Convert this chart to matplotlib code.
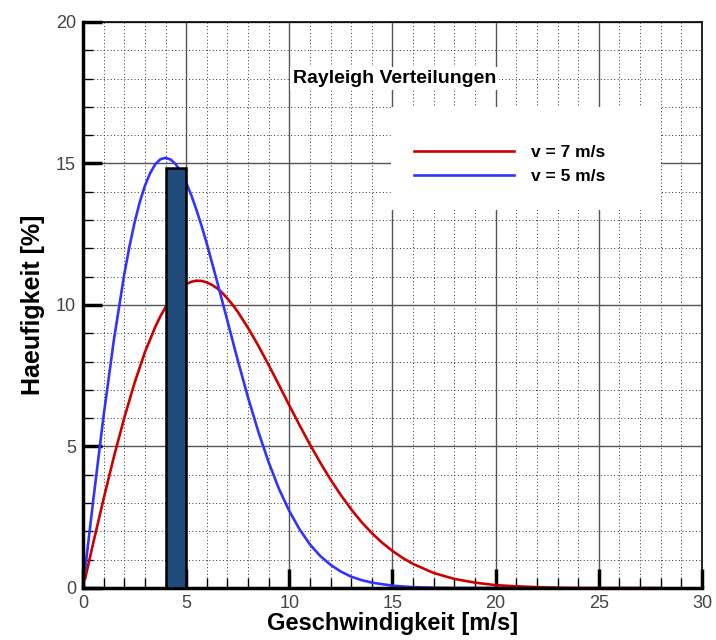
import matplotlib
matplotlib.use('Agg')
import matplotlib.pyplot as plt
from matplotlib.patches import Rectangle
from matplotlib.ticker import MultipleLocator

# values (Haeufigkeit in % over v in m/s)
v_red = [0.1, 0.5, 1, 1.5, 2, 2.5, 3, 3.5, 3.75, 4, 4.25, 4.5, 4.75, 5, 5.25, 5.5, 5.75, 6,
         6.25, 6.5, 6.75, 7, 7.25, 7.5, 8, 8.5, 9, 9.5, 10, 10.5, 11, 11.5, 12, 12.5, 13,
         13.5, 14, 14.5, 15, 15.5, 16, 17, 18, 19, 20, 21, 22, 23, 24, 26, 28]
h_red = [0.32, 1.6, 3.15, 4.64, 6.01, 7.25, 8.33, 9.22, 9.6, 9.92, 10.2, 10.43, 10.61, 10.74,
         10.82, 10.86, 10.85, 10.8, 10.71, 10.59, 10.43, 10.23, 10.01, 9.76, 9.19, 8.56, 7.88,
         7.17, 6.45, 5.75, 5.07, 4.43, 3.83, 3.28, 2.78, 2.33, 1.94, 1.6, 1.31, 1.06, 0.85,
         0.53, 0.32, 0.19, 0.1, 0.06, 0.03, 0.01, 0.0, 0.0, 0.0]

v_blue = [0.1, 0.5, 1, 1.5, 2, 2.25, 2.5, 2.75, 3, 3.25, 3.5, 3.75, 4, 4.25, 4.5, 4.75, 5,
          5.25, 5.5, 5.75, 6, 6.5, 7, 7.5, 8, 8.5, 9, 9.5, 10, 10.5, 11, 11.5, 12, 12.5, 13,
          13.5, 14, 15, 16, 17, 18, 20]
h_blue = [0.63, 3.12, 6.09, 8.78, 11.08, 12.06, 12.91, 13.63, 14.21, 14.65, 14.97, 15.15,
          15.2, 15.14, 14.97, 14.69, 14.32, 13.88, 13.36, 12.79, 12.17, 10.83, 9.44, 8.05,
          6.73, 5.52, 4.44, 3.5, 2.72, 2.07, 1.54, 1.13, 0.82, 0.58, 0.4, 0.28, 0.19, 0.08,
          0.03, 0.01, 0.0, 0.0]

bar_left = 4.0
bar_width = 1.0
bar_height = 14.85

labels = ['v = 7 m/s', 'v = 5 m/s']

plt.rcParams['font.family'] = ['Liberation Sans', 'DejaVu Sans']

fig = plt.figure(figsize=(7.16, 6.4), dpi=100)
ax = fig.add_axes([0.1159, 0.08125, 0.8645, 0.8844])

ax.set_xlim(0, 30)
ax.set_ylim(0, 20)
ax.xaxis.set_major_locator(MultipleLocator(5))
ax.xaxis.set_minor_locator(MultipleLocator(1))
ax.yaxis.set_major_locator(MultipleLocator(5))
ax.yaxis.set_minor_locator(MultipleLocator(1))

ax.set_axisbelow(True)
ax.grid(which='major', color='#555555', linewidth=1.0, linestyle='-')
ax.grid(which='minor', color='#333333', linewidth=0.7, linestyle=(0, (1, 2.5)))

# white box behind the legend
ax.add_patch(Rectangle((0.4976, 0.668), 0.437, 0.182, transform=ax.transAxes,
                       facecolor='white', edgecolor='none', zorder=1))

l1, = ax.plot(v_red, h_red, color='#cc0000', linewidth=1.9, zorder=2)
l2, = ax.plot(v_blue, h_blue, color='#3333ff', linewidth=1.9, zorder=2)

ax.bar(bar_left, bar_height, width=bar_width, align='edge', color='#1f4a7a',
       edgecolor='black', linewidth=1.8, zorder=3)

ax.text(15.1, 18.0, 'Rayleigh Verteilungen', ha='center', va='center', fontsize=14,
        fontweight='bold', bbox=dict(facecolor='white', edgecolor='none', pad=2), zorder=4)

leg = ax.legend([l1, l2], labels, loc='center', bbox_to_anchor=(0.69, 0.748),
                frameon=False, handlelength=5.75, handletextpad=1.0, labelspacing=0.5,
                prop={'size': 12.5, 'weight': 'bold'})

ax.tick_params(which='major', direction='in', length=14, width=2.5, top=False, right=False,
               labelsize=13, labelcolor='#444444', pad=5)
ax.tick_params(which='minor', direction='in', length=7, width=1, top=False, right=False)

ax.spines['left'].set_linewidth(2.5)
ax.spines['bottom'].set_linewidth(2.5)
ax.spines['top'].set_linewidth(1.2)
ax.spines['right'].set_linewidth(1.2)

ax.set_xlabel('Geschwindigkeit [m/s]', fontsize=17, fontweight='bold', labelpad=0)
ax.set_ylabel('Haeufigkeit [%]', fontsize=18, fontweight='bold', labelpad=8)

fig.savefig('out.png', dpi=100)
